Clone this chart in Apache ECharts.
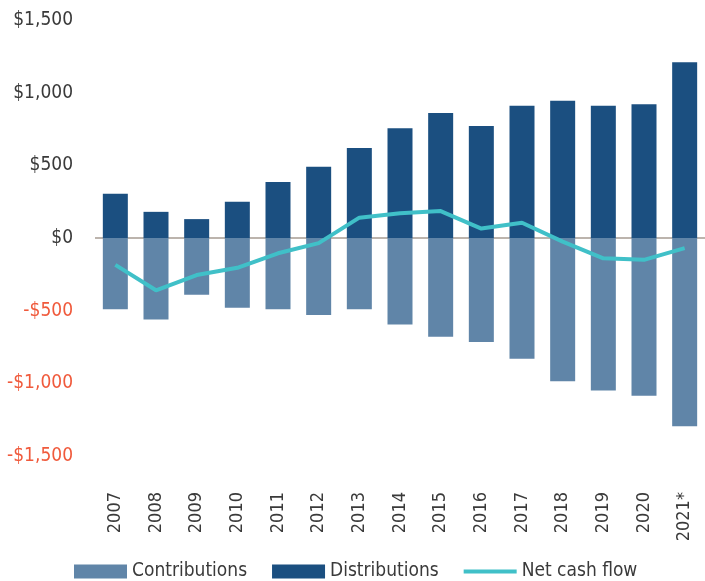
<!DOCTYPE html>
<html>
<head>
<meta charset="utf-8">
<title>Contributions, distributions and net cash flow</title>
<script src="https://cdn.jsdelivr.net/npm/echarts@6/dist/echarts.min.js"></script>
<style>
  html, body { margin: 0; padding: 0; background: #fff; }
  #chart { width: 705px; height: 581px; }
</style>
</head>
<body>
<div id="chart"></div>
<script>
// values ($ billions)
const years = ["2007", "2008", "2009", "2010", "2011", "2012", "2013", "2014",
  "2015", "2016", "2017", "2018", "2019", "2020", "2021*"];
const contributions = [-490, -560, -390, -480, -490, -530, -490, -595,
  -680, -715, -830, -985, -1050, -1085, -1295];
const distributions = [305, 180, 130, 250, 385, 490, 620, 755,
  860, 770, 910, 945, 910, 920, 1210];
const netCashFlow = [-185, -360, -255, -205, -105, -35, 140, 170,
  185, 65, 105, -25, -140, -150, -70];
const yTicks = { min: -1500, max: 1500, step: 500 };

const FONT = "'DejaVu Sans Condensed', 'Liberation Sans Narrow', sans-serif";

const money = (v) => {
  const s = Math.abs(v).toLocaleString("en-US");
  return (v < 0 ? "-$" : "$") + s;
};

const myChart = echarts.init(document.getElementById("chart"));

const option = {
  animation: false,
  textStyle: { fontFamily: FONT },
  grid: {
    left: 95,
    width: 616,
    top: 20,
    bottom: 125,
  },
  legend: {
    left: 74,
    top: 562,
    padding: 0,
    itemWidth: 53,
    itemHeight: 14,
    itemGap: 25,
    textStyle: { fontFamily: FONT, fontSize: 19, color: "#3a3a3a" },
    data: [
      { name: "Contributions", icon: "rect" },
      { name: "Distributions", icon: "rect" },
      // flat bar so the legend shows a plain line without a dot
      { name: "Net cash flow", icon: "path://M0,0L53,0L53,4L0,4Z" },
    ],
  },
  xAxis: {
    type: "category",
    data: years,
    axisLine: { show: false, onZero: false },
    axisTick: { show: false },
    axisLabel: {
      rotate: 90,
      margin: 36,
      fontFamily: FONT,
      fontSize: 18,
      color: "#3a3a3a",
    },
  },
  yAxis: {
    type: "value",
    min: yTicks.min,
    max: yTicks.max,
    interval: yTicks.step,
    splitLine: { show: false },
    axisLine: { show: false },
    axisTick: { show: false },
    axisLabel: {
      margin: 22,
      fontFamily: FONT,
      fontSize: 19,
      formatter: money,
      color: (v) => (Number(v) < 0 ? "#f05a3c" : "#3a3a3a"),
    },
  },
  series: [
    {
      name: "Contributions",
      type: "bar",
      barWidth: 25,
      barGap: "-100%",
      itemStyle: { color: "#6085a8" },
      data: contributions,
    },
    {
      name: "Distributions",
      type: "bar",
      barWidth: 25,
      itemStyle: { color: "#1b4f80" },
      data: distributions,
    },
    {
      name: "Net cash flow",
      type: "line",
      symbol: "none",
      lineStyle: { color: "#40c0c8", width: 4 },
      itemStyle: { color: "#40c0c8" },
      data: netCashFlow,
      markLine: {
        silent: true,
        symbol: "none",
        label: { show: false },
        lineStyle: { color: "#bcb4ad", width: 2, type: "solid" },
        data: [{ yAxis: 0 }],
        z: 1,
      },
      z: 3,
    },
  ],
};

myChart.setOption(option);

window.onresize = function () {
  myChart.resize();
};
</script>
</body>
</html>
